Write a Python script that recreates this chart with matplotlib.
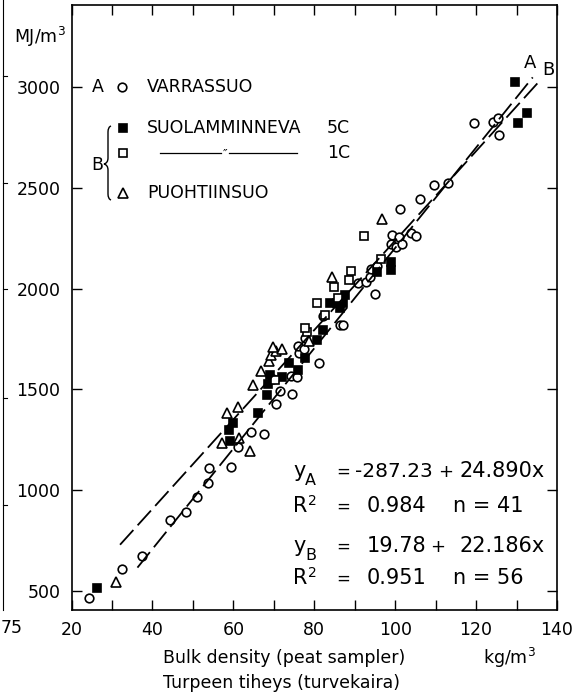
import numpy as np
import matplotlib
matplotlib.use("Agg")
import matplotlib.pyplot as plt
from matplotlib.lines import Line2D
from matplotlib.path import Path
from matplotlib.patches import PathPatch

# Varrassuo (A), open circles
varr_x = [24.4, 32.6, 37.5, 44.4, 48.3, 51.0, 53.7, 54.0, 59.4, 61.1, 64.3, 67.5,
          70.5, 71.5, 74.4, 69.8, 74.2, 75.7, 76.2, 75.9, 77.6, 77.4, 81.1, 82.1,
          86.3, 87.0, 90.9, 92.9, 93.9, 95.1, 94.1, 95.4, 99.3, 101.0, 99.0, 100.3,
          101.8, 104.0, 105.2, 101.3, 106.2, 109.7, 113.1, 119.5, 124.2, 125.4, 125.7]
varr_y = [465, 609, 674, 852, 892, 966, 1036, 1110, 1115, 1214, 1289, 1279,
          1428, 1490, 1477, 1552, 1567, 1562, 1680, 1715, 1755, 1700, 1631, 1864,
          1819, 1819, 2028, 2033, 2058, 1973, 2097, 2112, 2266, 2256, 2221, 2206,
          2221, 2276, 2261, 2395, 2444, 2514, 2524, 2821, 2826, 2846, 2762]

# Suolamminneva 5C, filled squares
suo5_x = [26.2, 59.0, 59.2, 59.9, 66.0, 68.3, 68.5, 69.0, 72.0, 73.7, 75.9, 77.6,
          80.6, 82.1, 83.8, 85.5, 87.0, 87.5, 86.3, 95.6, 99.0, 99.0, 129.6, 132.6, 130.3]
suo5_y = [515, 1299, 1244, 1333, 1383, 1472, 1527, 1571, 1562, 1631, 1596, 1656,
          1745, 1795, 1928, 1928, 1928, 1968, 1903, 2082, 2132, 2092, 3025, 2871, 2821]

# Suolamminneva 1C, open squares
suo1_x = [80.8, 82.6, 78.1, 77.6, 84.8, 88.7, 89.2, 96.4, 92.2, 85.8, 70.3]
suo1_y = [1929, 1869, 1785, 1805, 2008, 2043, 2087, 2147, 2261, 1953, 1545]

# Puohtiinsuo, open triangles
puoh_x = [31.1, 57.2, 61.4, 64.1, 58.4, 61.1, 64.8, 66.8, 68.8, 69.3, 70.5, 69.8,
          72.0, 78.6, 84.3, 96.8]
puoh_y = [545, 1234, 1259, 1194, 1383, 1413, 1520, 1591, 1641, 1670, 1690, 1710,
          1700, 1740, 2058, 2345]

# regression lines (published coefficients) and their drawn x extent
fit_a = (-287.23, 24.890)
fit_b = (19.78, 22.186)
range_a = [36.3, 134.0]
range_b = [32.0, 136.0]

W, H = 582, 695
fig = plt.figure(figsize=(W / 100, H / 100), dpi=100)
ax = fig.add_axes([71.5 / W, 1 - 610 / H, (557 - 71.5) / W, 605 / H])


def P(px, py):
    return (px / W, 1 - py / H)


ax.set_xlim(20, 140)
ax.set_ylim(406, 3407)
ax.set_xticks(np.arange(20, 141, 20))
ax.set_xticks(np.arange(30, 140, 20), minor=True)
ax.set_yticks(np.arange(500, 3001, 500))
ax.tick_params(which='both', direction='in', top=True, right=True,
               length=7, width=1, labelsize=12.5, pad=8)
for s in ax.spines.values():
    s.set_linewidth(1.2)

ms = 6.2
ax.plot(varr_x, varr_y, 'o', mfc='white', mec='k', ms=ms, mew=1.2, ls='none')
ax.plot(suo5_x, suo5_y, 's', mfc='k', mec='k', ms=ms, mew=1.2, ls='none')
ax.plot(suo1_x, suo1_y, 's', mfc='white', mec='k', ms=ms, mew=1.2, ls='none')
ax.plot(puoh_x, puoh_y, '^', mfc='white', mec='k', ms=ms + 0.5, mew=1.2, ls='none')

xa = np.array(range_a)
xb = np.array(range_b)
ax.plot(xa, fit_a[0] + fit_a[1] * xa, color='k', lw=1.3, ls=(0, (11, 3.5)))
ax.plot(xb, fit_b[0] + fit_b[1] * xb, color='k', lw=1.3, ls=(0, (11, 3.5)))
fig.text(*P(530, 63), 'A', fontsize=13, ha='center', va='center')
fig.text(*P(548, 70), 'B', fontsize=13, ha='center', va='center')

# axis titles
fig.text(*P(40, 37), 'MJ/m$^3$', fontsize=12.5, ha='center', va='center')
fig.text(*P(163, 658), 'Bulk density (peat sampler)', fontsize=12.5, ha='left', va='center')
fig.text(*P(483, 658), 'kg/m$^3$', fontsize=12.5, ha='left', va='center')
fig.text(*P(163, 683), 'Turpeen tiheys (turvekaira)', fontsize=12.5, ha='left', va='center')

# legend
lf = 12.5
fig.text(*P(98, 87), 'A', fontsize=lf, ha='center', va='center')
fig.text(*P(147, 87), 'VARRASSUO', fontsize=lf, ha='left', va='center')
fig.text(*P(147, 128), 'SUOLAMMINNEVA', fontsize=lf, ha='left', va='center')
fig.text(*P(327, 128), '5C', fontsize=lf, ha='left', va='center')
fig.text(*P(327, 153), '1C', fontsize=lf, ha='left', va='center')
fig.text(*P(147, 193), 'PUOHTIINSUO', fontsize=lf, ha='left', va='center')
fig.text(*P(97, 165), 'B', fontsize=lf, ha='center', va='center')
legend_marks = [((122, 87), 'o', 'white', ms), ((123, 128), 's', 'k', ms),
                ((123, 153), 's', 'white', ms), ((123, 193), '^', 'white', ms + 0.5)]
for (px, py), m, fc, sz in legend_marks:
    fig.add_artist(Line2D([px / W], [1 - py / H], marker=m, mfc=fc, mec='k',
                          ms=sz, mew=1.2, ls='none'))
fig.add_artist(Line2D([160 / W, 221 / W], [1 - 153 / H] * 2, color='k', lw=0.9))
fig.add_artist(Line2D([229 / W, 297 / W], [1 - 153 / H] * 2, color='k', lw=0.9))
fig.text(*P(225, 154), '\u2033', fontsize=9, ha='center', va='center')

# brace
pts = [(111, 126), (108, 127), (108, 132), (108, 158), (108, 163), (104, 164),
       (108, 165), (108, 170), (108, 194), (108, 199), (111, 200)]
codes = [Path.MOVETO, Path.CURVE3, Path.CURVE3, Path.LINETO, Path.CURVE3, Path.CURVE3,
         Path.CURVE3, Path.CURVE3, Path.LINETO, Path.CURVE3, Path.CURVE3]
brace = Path([P(*p) for p in pts], codes)
fig.add_artist(PathPatch(brace, fill=False, lw=1.0, ec='k', transform=fig.transFigure))

# equations
ef = 15
rows = [
    (477, 'y', 'A', '-287.23', '+', '24.890x', None),
    (512, 'R', '2', '0.984', None, None, 'n = 41'),
    (552, 'y', 'B', '19.78', '+', '22.186x', None),
    (584, 'R', '2', '0.951', None, None, 'n = 56'),
]
for base, v, sub, c1, plus, c2, nn in rows:
    fig.text(*P(293, base), v, fontsize=ef, ha='left', va='baseline')
    if v == 'y':
        fig.text(*P(305, base + 8), sub, fontsize=11.5, ha='left', va='baseline')
    else:
        fig.text(*P(308, base - 7), sub, fontsize=10, ha='left', va='baseline')
    fig.text(*P(343, base), '=', fontsize=12, ha='center', va='baseline')
    neg = c1.startswith('-')
    fig.text(*P(355 if neg else 367, base), c1, fontsize=14.5 if neg else ef,
             ha='left', va='baseline')
    if plus:
        fig.text(*P(446 if neg else 438, base), plus, fontsize=13,
                 ha='center', va='baseline')
        fig.text(*P(545, base), c2, fontsize=ef, ha='right', va='baseline')
    if nn:
        fig.text(*P(453, base), nn, fontsize=ef, ha='left', va='baseline')

# edge of neighbouring figure in the scan
fig.add_artist(Line2D([3 / W, 3 / W], [1, 1 - 610 / H], color='k', lw=0.8))
for ty in [76, 183, 289, 398, 505]:
    fig.add_artist(Line2D([3 / W, 7 / W], [1 - ty / H] * 2, color='k', lw=0.8))
fig.text(*P(1, 628), '75', fontsize=12.5, ha='left', va='center')

fig.savefig('out.png', dpi=100, facecolor='white')
